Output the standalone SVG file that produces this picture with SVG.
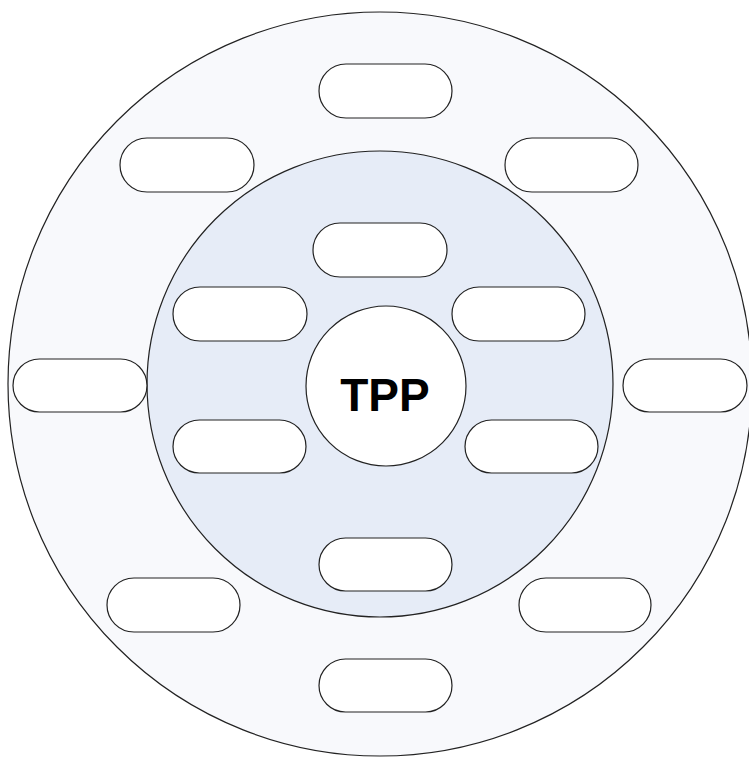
<svg xmlns="http://www.w3.org/2000/svg" width="749" height="757" viewBox="0 0 749 757">
  <style>
    .ring { stroke: #222; stroke-width: 1.2; }
    .outer { fill: #f8f9fc; }
    .inner { fill: #e6ecf7; }
    .pill { fill: #ffffff; stroke: #222; stroke-width: 1.2; }
    .core { fill: #ffffff; stroke: #222; stroke-width: 1.2; }
    .label { font-family: "Liberation Sans", Arial, sans-serif; font-weight: bold; font-size: 46px; fill: #000; }
  </style>
  <rect width="749" height="757" fill="#ffffff"/>
  <g id="outer-ring"><circle class="ring outer" cx="380" cy="384" r="372"/></g>
  <g id="inner-ring"><circle class="ring inner" cx="380" cy="384" r="233"/></g>
  <g id="connectors"></g>
  <!-- outer ring slots -->
  <g id="o-top"><rect class="pill" x="319" y="64" width="133" height="54" rx="27"/></g>
  <g id="o-top-left"><rect class="pill" x="120" y="138" width="134" height="54" rx="27"/></g>
  <g id="o-top-right"><rect class="pill" x="505" y="138" width="133" height="54" rx="27"/></g>
  <g id="o-left"><rect class="pill" x="13" y="359" width="134" height="53" rx="26.5"/></g>
  <g id="o-right"><rect class="pill" x="623" y="359" width="124" height="53" rx="26.5"/></g>
  <g id="o-bottom-left"><rect class="pill" x="107" y="578" width="133" height="54" rx="27"/></g>
  <g id="o-bottom-right"><rect class="pill" x="519" y="578" width="132" height="54" rx="27"/></g>
  <g id="o-bottom"><rect class="pill" x="319" y="659" width="133" height="53" rx="26.5"/></g>
  <!-- inner ring slots -->
  <g id="i-top"><rect class="pill" x="313" y="223" width="134" height="54" rx="27"/></g>
  <g id="i-left-up"><rect class="pill" x="173" y="287" width="134" height="54" rx="27"/></g>
  <g id="i-right-up"><rect class="pill" x="452" y="287" width="133" height="54" rx="27"/></g>
  <g id="i-left-down"><rect class="pill" x="173" y="420" width="133" height="53" rx="26.5"/></g>
  <g id="i-right-down"><rect class="pill" x="465" y="420" width="133" height="53" rx="26.5"/></g>
  <g id="i-bottom"><rect class="pill" x="319" y="538" width="133" height="53" rx="26.5"/></g>
  <!-- core -->
  <g id="tpp">
    <circle class="core" cx="386" cy="386" r="80"/>
    <text class="label" x="385" y="411" text-anchor="middle">TPP</text>
  </g>
</svg>
